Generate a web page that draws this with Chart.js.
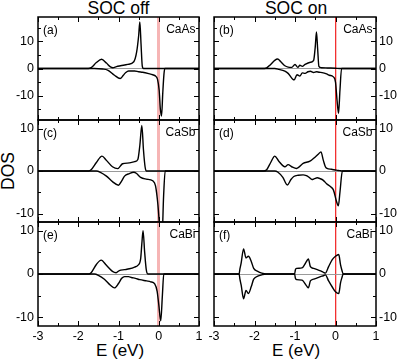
<!DOCTYPE html>
<html>
<head>
<meta charset="utf-8">
<script src="https://cdn.jsdelivr.net/npm/chart.js@4.4.0/dist/chart.umd.min.js"></script>
<style>
  body { margin: 0; background: #fff; width: 399px; height: 361px; overflow: hidden; position: relative;
         font-family: "Liberation Sans", Arial, sans-serif; }
  canvas { position: absolute; }
  .big { position: absolute; font-size: 17.5px; line-height: 17.5px; white-space: nowrap; color: #000; }
</style>
</head>
<body>
<div class="big" style="left:118.5px; top:0px; transform:translateX(-50%)">SOC off</div>
<div class="big" style="left:296px; top:0px; transform:translateX(-50%)">SOC on</div>
<div class="big" style="left:120px; top:342px; font-size:17px; transform:translateX(-50%)">E (eV)</div>
<div class="big" style="left:296px; top:342px; font-size:17px; transform:translateX(-50%)">E (eV)</div>
<div class="big" style="left:8.5px; top:171px; transform:translate(-50%,-50%) rotate(-90deg)">DOS</div>

<script>
// axis ticks
const xMajor = [-3, -2, -1, 0, 1];
const xMinor = [-2.5, -1.5, -0.5, 0.5];
const yMajor = [-10, 0, 10];
const yMinorWide = [-15, -5, 5, 15];
const yMinorNarrow = [-5, 5];

// (a) CaAs, SOC off
const aUpE = [-3, -1.75, -1.68, -1.55, -1.42, -1.3, -1.2, -1.14, -1.05, -0.95, -0.77, -0.62, -0.55, -0.5, -0.47, -0.44, -0.41, -0.38, 1];
const aUp  = [0, 0, 0.3, 2.2, 3.4, 2.0, 0.6, 0.3, 0.7, 1.0, 1.5, 2.5, 6, 12, 17.2, 9, 1, 0, 0];
const aDnE = [-3, -1.6, -1.4, -1.27, -1.1, -0.96, -0.88, -0.82, -0.75, -0.6, -0.5, -0.4, -0.25, -0.15, -0.08, -0.03, 0.01, 0.04, 0.07, 0.1, 0.13, 0.15, 1];
const aDn  = [0, 0, -0.2, -0.6, -2.5, -3.7, -2.5, -1.5, -0.9, -0.9, -1.2, -1.4, -1.9, -2.3, -2.8, -4, -8, -15, -17.5, -9, -2, 0, 0];

// (b) CaAs, SOC on
const bUpE = [-3, -1.75, -1.7, -1.6, -1.5, -1.43, -1.35, -1.25, -1.17, -1.08, -1.0, -0.93, -0.88, -0.82, -0.75, -0.62, -0.54, -0.5, -0.47, -0.44, -0.41, -0.35, -0.2, 0, 0.1, 1];
const bUp  = [0, 0, 0.2, 1.5, 3.0, 3.5, 2.5, 1.0, 0.5, 0.4, 1.5, 0.4, 1.2, 0.8, 1.5, 2.3, 3.0, 8, 13.5, 7, 0.8, 0.3, 0.2, 0.1, 0, 0];
const bDnE = [-3, -1.5, -1.4, -1.25, -1.17, -1.02, -0.95, -0.88, -0.82, -0.75, -0.68, -0.62, -0.54, -0.47, -0.4, -0.33, -0.22, -0.15, -0.06, 0, 0.04, 0.075, 0.11, 0.15, 1];
const bDn  = [0, 0, -0.3, -1.0, -1.8, -4.2, -2.3, -2.8, -1.6, -1.8, -1.2, -1.0, -1.5, -1.2, -1.4, -1.5, -2.0, -2.5, -3.0, -5, -12, -16.5, -8, 0, 0];

// (c) CaSb, SOC off
const cUpE = [-3, -1.74, -1.68, -1.55, -1.41, -1.3, -1.15, -1.02, -0.9, -0.73, -0.6, -0.52, -0.47, -0.42, -0.38, -0.34, -0.31, 1];
const cUp  = [0, 0, 0.3, 2.0, 3.5, 2.5, 1.0, 0.55, 1.7, 1.9, 2.2, 2.7, 6, 10.7, 5, 1, 0, 0];
const cDnE = [-3, -1.55, -1.45, -1.3, -1.15, -1.0, -0.92, -0.85, -0.73, -0.62, -0.55, -0.45, -0.31, -0.15, -0.08, -0.02, 0.03, 0.08, 0.12, 0.16, 1];
const cDn  = [0, 0, -0.3, -1.2, -2.5, -3.35, -2.3, -1.2, -0.6, -0.3, -0.6, -1.5, -1.9, -2.3, -3.5, -8, -14, -16, -6, 0, 0];

// (d) CaSb, SOC on
const dUpE = [-3, -1.78, -1.7, -1.6, -1.5, -1.4, -1.25, -1.17, -1.08, -0.96, -0.8, -0.63, -0.5, -0.42, -0.36, -0.3, -0.25, -0.21, -0.1, 0.02, 0.1, 0.18, 1];
const dUp  = [0, 0, 0.3, 2.0, 3.5, 2.3, 1.0, 1.5, 1.0, 0.6, 1.8, 2.3, 3.3, 4.0, 4.5, 2.5, 1.0, 0.6, 0.4, 0.2, 0.1, 0, 0];
const dDnE = [-3, -1.5, -1.42, -1.3, -1.19, -1.1, -1.03, -0.92, -0.8, -0.72, -0.65, -0.58, -0.52, -0.45, -0.38, -0.3, -0.22, -0.12, -0.05, 0.02, 0.07, 0.11, 0.17, 1];
const dDn  = [0, 0, -0.3, -1.5, -3.3, -2.0, -1.3, -1.0, -0.9, -1.1, -1.5, -2.0, -1.8, -1.6, -1.8, -2.2, -3.0, -3.7, -4.5, -7, -8.2, -5, 0, 0];

// (e) CaBi, SOC off
const eUpE = [-3, -1.74, -1.68, -1.55, -1.43, -1.3, -1.15, -1.06, -0.98, -0.85, -0.73, -0.6, -0.52, -0.45, -0.42, -0.39, -0.35, -0.31, -0.27, 1];
const eUp  = [0, 0, 0.3, 2.2, 3.2, 2.0, 0.6, 0.3, 0.8, 1.0, 1.2, 1.6, 2.0, 3.5, 7, 10, 5, 1, 0, 0];
const eDnE = [-3, -1.6, -1.5, -1.35, -1.2, -1.1, -1.0, -0.92, -0.85, -0.75, -0.68, -0.58, -0.47, -0.3, -0.2, -0.1, -0.04, 0.0, 0.05, 0.09, 0.125, 1];
const eDn  = [0, 0, -0.3, -1.2, -2.6, -3.2, -2.2, -1.0, -0.6, -0.6, -0.8, -1.0, -1.3, -1.6, -1.8, -2.3, -4, -7, -10.8, -5, 0, 0];

// (f) CaBi, SOC on
const fE   = [-3, -2.38, -2.36, -2.33, -2.27, -2.21, -2.15, -2.08, -2.02, -1.92, -1.82, -1.71, -1.01, -0.99, -0.96, -0.83, -0.71, -0.67, -0.62, -0.54, -0.45, -0.37, -0.3, -0.25, -0.17, -0.08, 0.0, 0.08, 0.125, 0.16, 0.19, 1];
const fUp  = [0, 0, 1.2, 2.5, 5.8, 3.7, 4.1, 2.9, 1.3, 0.6, 0.2, 0, 0, 1.0, 1.3, 1.4, 3.0, 3.5, 1.7, 1.3, 1.0, 0.7, 0.4, 0.2, 1.7, 3.3, 4.1, 4.5, 2.1, 0.8, 0, 0];
const fDn  = [0, 0, -1.2, -2.5, -5.7, -3.8, -4.5, -2.9, -1.2, -0.5, -0.2, 0, 0, -1.0, -1.3, -1.4, -2.8, -3.2, -1.6, -1.2, -0.9, -0.6, -0.4, -0.2, -1.6, -3.0, -4.1, -4.5, -2.0, -0.8, 0, 0];

const panels = [
  { tag: '(a)', name: 'CaAs', col: 0, row: 0, lim: 19, yMinor: yMinorWide,   upE: aUpE, up: aUp, dnE: aDnE, dn: aDn },
  { tag: '(b)', name: 'CaAs', col: 1, row: 0, lim: 19, yMinor: yMinorWide,   upE: bUpE, up: bUp, dnE: bDnE, dn: bDn },
  { tag: '(c)', name: 'CaSb', col: 0, row: 1, lim: 12, yMinor: yMinorNarrow, upE: cUpE, up: cUp, dnE: cDnE, dn: cDn },
  { tag: '(d)', name: 'CaSb', col: 1, row: 1, lim: 12, yMinor: yMinorNarrow, upE: dUpE, up: dUp, dnE: dDnE, dn: dDn },
  { tag: '(e)', name: 'CaBi', col: 0, row: 2, lim: 12, yMinor: yMinorNarrow, upE: eUpE, up: eUp, dnE: eDnE, dn: eDn },
  { tag: '(f)', name: 'CaBi', col: 1, row: 2, lim: 12, yMinor: yMinorNarrow, upE: fE,   up: fUp, dnE: fE,   dn: fDn },
];

// layout of the grid
const rowTop = [17, 120, 222];
const rowBot = [120, 222, 326];
const colLeft = [0, 200];
const colWidth = [205, 199];
const font = '"Liberation Sans", Arial, sans-serif';

// frame with inward ticks on all four sides, plus the panel labels
const frameTicks = {
  id: 'frameTicks',
  afterDatasetsDraw(chart, args, opts) {
    const { ctx, chartArea: a, scales: { x, y } } = chart;
    ctx.save();
    ctx.strokeStyle = '#000';
    ctx.lineWidth = 1;
    const seg = (x1, y1, x2, y2) => { ctx.beginPath(); ctx.moveTo(x1, y1); ctx.lineTo(x2, y2); ctx.stroke(); };
    const xt = (vals, len) => vals.forEach(v => {
      const p = Math.round(x.getPixelForValue(v)) + 0.5;
      seg(p, a.top, p, a.top + len);
      seg(p, a.bottom, p, a.bottom - len);
    });
    const yt = (vals, len) => vals.forEach(v => {
      const p = Math.round(y.getPixelForValue(v)) + 0.5;
      seg(a.left, p, a.left + len, p);
      seg(a.right, p, a.right - len, p);
    });
    xt(xMajor, 5); xt(xMinor, 3);
    yt(yMajor, 5); yt(opts.yMinor, 3);
    ctx.lineWidth = 1.5;
    ctx.strokeRect(a.left, a.top, a.right - a.left, a.bottom - a.top);

    ctx.fillStyle = '#000';
    ctx.font = '12px ' + font;
    ctx.textBaseline = 'alphabetic';
    ctx.textAlign = 'left';
    ctx.fillText(opts.tag, a.left + 5, a.top + 16.5);
    ctx.textAlign = 'right';
    ctx.fillText(opts.name, a.right - 3.5, a.top + 15.5);
    ctx.restore();
  }
};

panels.forEach(p => {
  const top = rowTop[p.row] - 4;
  const last = p.row === 2;
  const h = (rowBot[p.row] - rowTop[p.row]) + 4 + (last ? 20 : 4);
  const cv = document.createElement('canvas');
  cv.width = colWidth[p.col];
  cv.height = h;
  cv.style.left = colLeft[p.col] + 'px';
  cv.style.top = top + 'px';
  document.body.appendChild(cv);

  const redColor = p.col === 0 ? 'rgba(236, 90, 90, 0.45)' : '#f23030';
  const redWidth = p.col === 0 ? 3 : 1.3;

  new Chart(cv, {
    type: 'line',
    data: {
      datasets: [
        { data: p.upE.map((e, i) => ({ x: e, y: p.up[i] })) },
        { data: p.dnE.map((e, i) => ({ x: e, y: p.dn[i] })) }
      ]
    },
    options: {
      responsive: false,
      animation: false,
      devicePixelRatio: 1,
      layout: {
        padding: {
          top: 4,
          bottom: last ? 0 : 4,
          left: p.col === 0 ? 0 : 14,
          right: p.col === 0 ? 6 : 0
        }
      },
      elements: {
        line: { borderColor: '#000', borderWidth: 1.4, cubicInterpolationMode: 'monotone', fill: false },
        point: { radius: 0 }
      },
      plugins: {
        legend: { display: false },
        tooltip: { enabled: false },
        frameTicks: { tag: p.tag, name: p.name, yMinor: p.yMinor }
      },
      scales: {
        x: {
          type: 'linear',
          min: -3,
          max: 1,
          afterBuildTicks: s => { s.ticks = xMajor.map(v => ({ value: v })); },
          afterFit: s => { s.height = last ? 20 : 0; s.paddingLeft = 0; s.paddingRight = 0; },
          ticks: {
            display: last,
            padding: 3,
            color: '#000',
            font: { family: font, size: 12.5 },
            maxRotation: 0,
            autoSkip: false
          },
          border: { display: false },
          grid: {
            drawTicks: false,
            color: c => c.tick && c.tick.value === 0 ? redColor : 'rgba(0,0,0,0)',
            lineWidth: c => c.tick && c.tick.value === 0 ? redWidth : 0
          }
        },
        y: {
          type: 'linear',
          position: p.col === 0 ? 'left' : 'right',
          min: -p.lim,
          max: p.lim,
          afterBuildTicks: s => { s.ticks = yMajor.map(v => ({ value: v })); },
          afterFit: s => { s.width = p.col === 0 ? 38 : 23; s.paddingTop = 0; s.paddingBottom = 0; },
          ticks: {
            padding: p.col === 0 ? 4 : 3,
            color: '#000',
            font: { family: font, size: 12.5 },
            autoSkip: false
          },
          border: { display: false },
          grid: {
            drawTicks: false,
            color: c => c.tick && c.tick.value === 0 ? '#9a9a9a' : 'rgba(0,0,0,0)',
            lineWidth: c => c.tick && c.tick.value === 0 ? 1 : 0
          }
        }
      }
    },
    plugins: [frameTicks]
  });
});
</script>
</body>
</html>
